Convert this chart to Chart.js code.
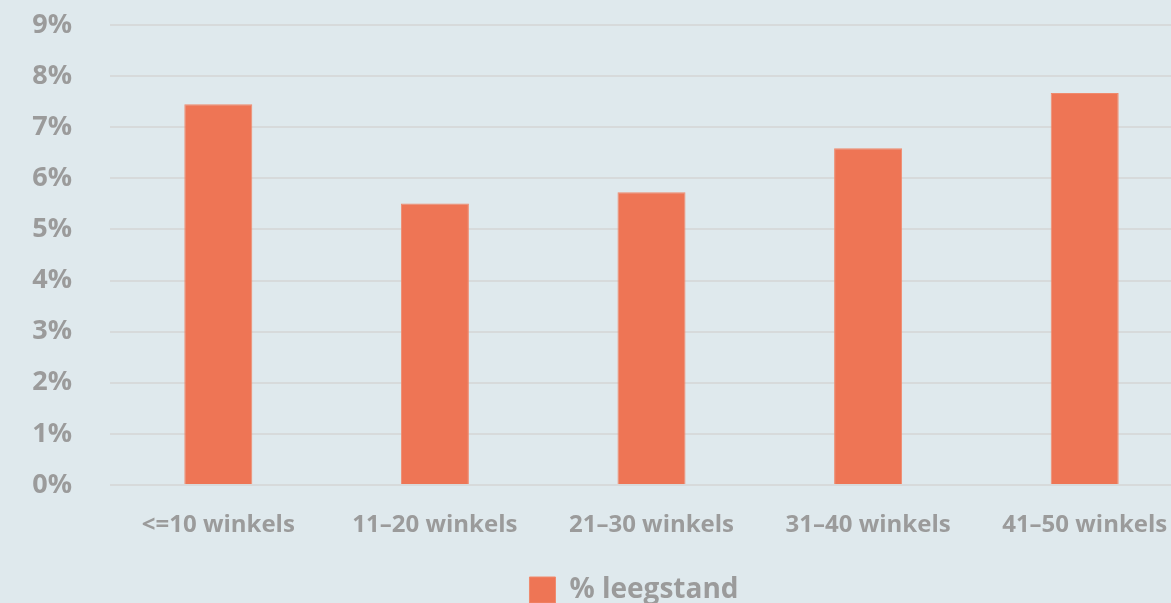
<!DOCTYPE html>
<html>
<head>
<meta charset="utf-8">
<script src="https://cdn.jsdelivr.net/npm/chart.js@4"></script>
<style>
  html, body { margin: 0; padding: 0; background: #dfe9ed; overflow: hidden; }
  #wrap { position: absolute; left: 0; top: 0; width: 1268px; height: 614px; }
</style>
</head>
<body>
<div id="wrap"><canvas id="c"></canvas></div>
<script>
const categories = ['<=10 winkels', '11–20 winkels', '21–30 winkels', '31–40 winkels', '41–50 winkels'];
const leegstand = [7.45, 5.51, 5.73, 6.59, 7.67];
const seriesLabel = '% leegstand';
const yTicks = [0, 1, 2, 3, 4, 5, 6, 7, 8, 9];

const grey = '#9b9b9b';
const barColor = '#ee7555';
const fontFamily = '"Open Sans", "Noto Sans", sans-serif';

new Chart(document.getElementById('c'), {
  type: 'bar',
  data: {
    labels: categories,
    datasets: [{
      label: seriesLabel,
      data: leegstand,
      backgroundColor: barColor,
      borderColor: '#f08a6d',
      borderWidth: 1,
      categoryPercentage: 1,
      barPercentage: 0.314
    }]
  },
  options: {
    responsive: true,
    maintainAspectRatio: false,
    animation: false,
    layout: { padding: { top: 25, right: 0, left: 0, bottom: 0 } },
    plugins: {
      tooltip: { enabled: false },
      legend: {
        position: 'bottom',
        labels: {
          color: grey,
          boxWidth: 26,
          boxHeight: 26,
          padding: 20,
          font: { family: fontFamily, size: 28, weight: 'bold' }
        }
      }
    },
    scales: {
      y: {
        min: 0,
        max: 9,
        afterBuildTicks: (axis) => { axis.ticks = yTicks.map(v => ({ value: v })); },
        afterFit: (axis) => { axis.width = 110; },
        border: { display: false },
        grid: { color: '#d7dadb', lineWidth: 2, drawTicks: true, tickLength: 38, tickColor: 'rgba(0,0,0,0)' },
        ticks: {
          color: grey,
          padding: 0,
          font: { family: fontFamily, size: 27, weight: 'bold' },
          callback: (v) => v + '%'
        }
      },
      yRight: {
        position: 'right',
        min: 0,
        max: 9,
        afterFit: (axis) => { axis.width = 75; },
        border: { display: false },
        grid: { display: false, drawTicks: false },
        ticks: { display: false, padding: 0 }
      },
      x: {
        afterFit: (axis) => { axis.height = 71; },
        border: { display: false },
        grid: { display: false, drawTicks: false },
        ticks: {
          color: grey,
          padding: 26,
          maxRotation: 0,
          autoSkip: false,
          font: { family: fontFamily, size: 24, weight: 'bold' }
        }
      }
    }
  }
});
</script>
</body>
</html>
